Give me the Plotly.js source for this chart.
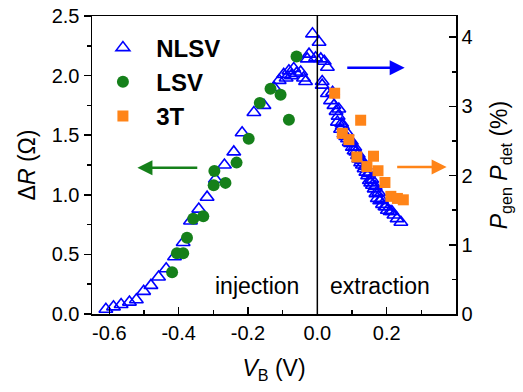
<!DOCTYPE html>
<html>
<head>
<meta charset="utf-8">
<script src="https://cdn.plot.ly/plotly-3.0.1.min.js"></script>
<style>html,body{margin:0;padding:0;background:#fff;}#plot{width:523px;height:392px;}</style>
</head>
<body>
<div id="plot"></div>
<script>
// NLSV (left axis, ΔR in Ω)
const nlsvV = [-0.610,-0.588,-0.566,-0.542,-0.522,-0.501,-0.480,-0.458,-0.436,-0.412,-0.387,-0.366,-0.342,-0.318,-0.294,-0.268,-0.241,-0.217,-0.183,-0.154,
  -0.125,-0.110,-0.097,-0.090,-0.082,-0.075,-0.068,-0.060,-0.048,-0.040,-0.034,-0.029,-0.024,-0.014,-0.005,0.005,0.010,0.014,0.020,0.029,
  0.014,0.029,0.038,0.044,0.048,0.054,0.058,0.062,0.067,0.072,0.077,0.082,0.087,0.092,0.096,0.101,0.106,0.111,0.116,0.120,0.125,0.130,0.135,0.140,0.145,0.150,0.154,0.159,0.164,0.169,0.173,0.180,0.188,0.195,0.202,0.210,0.221,0.230,0.241,
  0.060,0.070,0.085,0.098,0.108,0.118,0.128,0.138,0.148,0.157,0.167,0.177,0.185,0.198,0.215];
const nlsvR = [0.04,0.06,0.08,0.10,0.12,0.19,0.24,0.31,0.38,0.48,0.60,0.78,0.88,0.98,1.13,1.25,1.36,1.52,1.69,1.75,
  1.90,1.96,2.01,1.98,2.04,2.00,2.06,2.02,2.03,1.98,1.95,2.14,2.18,2.35,2.15,2.28,2.14,1.95,2.12,2.07,
  1.92,1.85,1.79,1.86,1.75,1.70,1.61,1.72,1.55,1.58,1.51,1.49,1.47,1.44,1.43,1.40,1.37,1.36,1.33,1.30,1.27,1.25,1.22,1.19,1.16,1.12,1.10,1.08,1.05,1.01,0.97,0.95,0.92,0.90,0.87,0.86,0.83,0.80,0.77,
  1.66,1.60,1.52,1.45,1.40,1.34,1.29,1.24,1.18,1.13,1.07,1.02,0.96,0.90,0.86];
// LSV (left axis)
const lsvV = [-0.419,-0.405,-0.387,-0.376,-0.358,-0.329,-0.299,-0.297,-0.265,-0.233,-0.198,-0.166,-0.135,-0.106,-0.082,-0.060];
const lsvR = [0.35,0.51,0.51,0.64,0.80,0.82,1.08,1.20,1.10,1.27,1.47,1.77,1.89,1.84,1.63,2.16];
// 3T (right axis, Pgen Pdet in %)
const t3V = [0.050,0.125,0.072,0.091,0.114,0.162,0.143,0.175,0.195,0.212,0.231,0.248];
const t3P = [3.19,2.80,2.61,2.52,2.27,2.28,2.13,2.07,1.90,1.70,1.67,1.65];

const xTickVals = [-0.6,-0.4,-0.2,0.0,0.2];
const xTickText = ["-0.6","-0.4","-0.2","0.0","0.2"];
const xMinorVals = [-0.5,-0.3,-0.1,0.1,0.3];
const yTickVals = [0,0.5,1.0,1.5,2.0,2.5];
const yTickText = ["0.0","0.5","1.0","1.5","2.0","2.5"];
const yMinorVals = [0.25,0.75,1.25,1.75,2.25];
const y2TickVals = [0,1,2,3,4];
const y2TickText = ["0","1","2","3","4"];
const y2MinorVals = [0.5,1.5,2.5,3.5];

const FONT = "Liberation Sans, Arial, sans-serif";
const BLUE = "#0000ff", GREEN = "#15801a", ORANGE = "#ff8418";

const traces = [
  {x: nlsvV, y: nlsvR, name: "\u00a0\u00a0NLSV", type: "scatter", mode: "markers",
   marker: {symbol: "triangle-up-open", size: 12, color: BLUE, line: {width: 1.6, color: BLUE}}},
  {x: lsvV, y: lsvR, name: "\u00a0\u00a0LSV", type: "scatter", mode: "markers",
   marker: {symbol: "circle", size: 12, color: GREEN}},
  {x: t3V, y: t3P, name: "\u00a0\u00a03T", type: "scatter", mode: "markers", yaxis: "y2",
   marker: {symbol: "square", size: 11, color: ORANGE}}
];

const layout = {
  width: 523, height: 392,
  margin: {l: 92, r: 67, t: 16, b: 78},
  paper_bgcolor: "#fff", plot_bgcolor: "#fff",
  font: {family: FONT, color: "#000", size: 20},
  showlegend: true,
  legend: {x: 0.03, y: 0.968, xanchor: "left", yanchor: "top", bgcolor: "rgba(0,0,0,0)",
           font: {family: FONT, size: 24, weight: "bold", color: "#000"}, tracegroupgap: 0},
  xaxis: {range: [-0.65, 0.40], tickmode: "array", tickvals: xTickVals, ticktext: xTickText,
          ticks: "inside", ticklen: 7, tickwidth: 1.5, tickcolor: "#000",
          minor: {tickmode: "array", tickvals: xMinorVals, ticks: "inside", ticklen: 4, tickwidth: 1.5, tickcolor: "#000"},
          showline: true, linewidth: 1.5, linecolor: "#000", mirror: true,
          showgrid: false, zeroline: false, tickfont: {size: 20},
          title: {text: "<i>V</i><sub>B</sub> (V)", font: {size: 23}, standoff: 17}},
  yaxis: {range: [0, 2.5], tickmode: "array", tickvals: yTickVals, ticktext: yTickText,
          ticks: "outside", ticklen: 7, tickwidth: 1.5, tickcolor: "#000",
          minor: {tickmode: "array", tickvals: yMinorVals, ticks: "outside", ticklen: 4, tickwidth: 1.5, tickcolor: "#000"},
          showline: true, linewidth: 1.5, linecolor: "#000",
          showgrid: false, zeroline: false, tickfont: {size: 20},
          title: {text: "\u0394<i>R</i> (\u03a9)", font: {size: 23}, standoff: 9}},
  yaxis2: {range: [0, 4.306], overlaying: "y", side: "right", tickmode: "array", tickvals: y2TickVals, ticktext: y2TickText,
           ticks: "inside", ticklen: 7, tickwidth: 1.5, tickcolor: "#000",
           minor: {tickmode: "array", tickvals: y2MinorVals, ticks: "inside", ticklen: 4, tickwidth: 1.5, tickcolor: "#000"},
           showline: true, linewidth: 1.5, linecolor: "#000",
           showgrid: false, zeroline: false, tickfont: {size: 20},
           title: {text: "<i>P</i><sub>gen</sub> <i>P</i><sub>det</sub> (%)", font: {size: 23}, standoff: 19}},
  shapes: [{type: "line", xref: "x", yref: "paper", x0: 0, x1: 0, y0: 0, y1: 1, line: {color: "#000", width: 1.5}}],
  annotations: [
    {x: -0.519, y: 1.227, ax: -0.342, ay: 1.227, xref: "x", yref: "y", axref: "x", ayref: "y",
     text: "", showarrow: true, arrowhead: 2, arrowsize: 1.2, arrowwidth: 2.5, arrowcolor: GREEN},
    {x: 0.252, y: 2.066, ax: 0.082, ay: 2.066, xref: "x", yref: "y", axref: "x", ayref: "y",
     text: "", showarrow: true, arrowhead: 2, arrowsize: 1.2, arrowwidth: 2.5, arrowcolor: BLUE},
    {x: 0.373, y: 1.233, ax: 0.226, ay: 1.233, xref: "x", yref: "y", axref: "x", ayref: "y",
     text: "", showarrow: true, arrowhead: 2, arrowsize: 1.2, arrowwidth: 2.5, arrowcolor: ORANGE},
    {x: -0.175, y: 0.235, xref: "x", yref: "y", text: "injection", showarrow: false, font: {size: 23, color: "#000"}},
    {x: 0.181, y: 0.235, xref: "x", yref: "y", text: "extraction", showarrow: false, font: {size: 23, color: "#000"}}
  ]
};

Plotly.newPlot("plot", traces, layout, {displayModeBar: false, staticPlot: true});
</script>
</body>
</html>
